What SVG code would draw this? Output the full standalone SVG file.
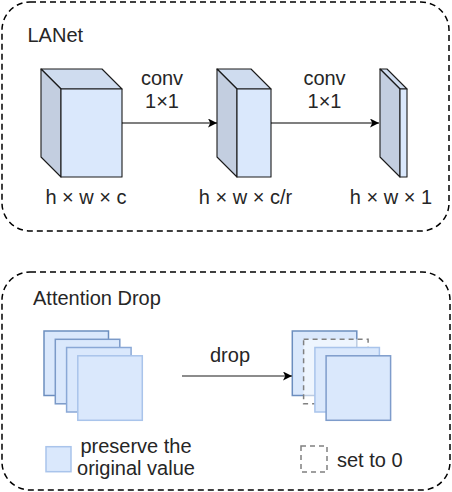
<svg xmlns="http://www.w3.org/2000/svg" width="452" height="492" viewBox="0 0 452 492">
<defs>
<style>
.t{font-family:"Liberation Sans",Arial,sans-serif;font-size:20px;fill:#262626}
.c{text-anchor:middle}
.box{fill:none;stroke:#000;stroke-width:1.5;stroke-dasharray:6 4}
.cf{fill:#dae8fc;stroke:#1a1a1a;stroke-width:1.1;stroke-linejoin:round}
.ct{fill:#cfdcef;stroke:#1a1a1a;stroke-width:1.1;stroke-linejoin:round}
.cs{fill:#c3cee0;stroke:#1a1a1a;stroke-width:1.1;stroke-linejoin:round}
.sq{fill:#dae8fc;stroke-width:1.5}
.dsq{fill:#fff;fill-opacity:0.55;stroke:#808080;stroke-width:1.5;stroke-dasharray:5 4}
.ln{fill:none;stroke:#000;stroke-width:1.1}
.lg{fill:none;stroke:#666;stroke-width:1.5}
</style>
<marker id="ah" viewBox="0 0 10 10" refX="10" refY="5" markerWidth="9" markerHeight="9" markerUnits="userSpaceOnUse" orient="auto">
<path d="M0,0 L10,5 L0,10 L2.5,5 Z" fill="#000"/>
</marker>
</defs>

<g id="lanet-container">
<rect class="box" x="2" y="2" width="447" height="229" rx="28" ry="28"/>
<text class="t" x="27.5" y="42">LANet</text>
</g>

<g id="cube1">
<polygon class="ct" points="41,69 102,69 122,89 61,89"/>
<polygon class="cs" points="41,69 61,89 61,177 41,157"/>
<rect class="cf" x="61" y="89" width="61" height="88"/>
<text class="t c" x="86" y="204">h × w × c</text>
</g>

<g id="cube2">
<polygon class="ct" points="217,69 251,69 271,89 237,89"/>
<polygon class="cs" points="217,69 237,89 237,177 217,157"/>
<rect class="cf" x="237" y="89" width="34" height="88"/>
<text class="t c" x="245.5" y="204">h × w × c/r</text>
</g>

<g id="cube3">
<polygon class="ct" points="380,69 387,69 407,89 400,89"/>
<polygon class="cs" points="380,69 400,89 400,177 380,157"/>
<rect class="cf" x="400" y="89" width="7" height="88"/>
<text class="t c" x="391" y="204">h × w × 1</text>
</g>

<g id="drop-container">
<rect class="box" x="2" y="272" width="448" height="218" rx="28" ry="28"/>
<text class="t" x="33" y="305">Attention Drop</text>
</g>

<g id="stack-left">
<rect class="sq" x="44" y="331" width="64.5" height="64.5" stroke="#6c8ebf"/>
<rect class="sq" x="55.3" y="339.3" width="64.5" height="64.5" stroke="#7b9ac8"/>
<rect class="sq" x="66.6" y="347.5" width="64.5" height="64.5" stroke="#8aa8d6"/>
<rect class="sq" x="77.8" y="355.8" width="64.5" height="64.5" stroke="#a9c4eb"/>
</g>

<g id="stack-right">
<rect class="sq" x="292.3" y="331" width="64.5" height="64.5" stroke="#6c8ebf"/>
<rect class="dsq" x="303.6" y="339.3" width="64.5" height="64.5"/>
<rect class="sq" x="314.9" y="347.5" width="64.5" height="64.5" stroke="#a9c4eb"/>
<rect class="sq" x="326.1" y="355.8" width="64.5" height="64.5" stroke="#7e9ccb"/>
</g>

<g id="legend-preserve">
<rect class="sq" x="46" y="446.7" width="25" height="25" stroke="#a9c4eb"/>
<text class="t c" x="136" y="453">preserve the</text>
<text class="t c" x="136" y="475">original value</text>
</g>

<g id="legend-set0">
<rect class="dsq" x="301" y="446" width="26" height="26"/>
<text class="t" x="337" y="467">set to 0</text>
</g>

<g id="connectors">
<line class="ln" x1="122" y1="123" x2="217" y2="123" marker-end="url(#ah)"/>
<text class="t c" x="162" y="85">conv</text>
<text class="t c" x="162" y="108">1×1</text>
<line class="ln" x1="271" y1="123" x2="379" y2="123" marker-end="url(#ah)"/>
<text class="t c" x="324.5" y="85">conv</text>
<text class="t c" x="324.5" y="108">1×1</text>
<line class="lg" x1="182" y1="376" x2="292" y2="376" marker-end="url(#ah)"/>
<text class="t c" x="230" y="362">drop</text>
</g>
</svg>
